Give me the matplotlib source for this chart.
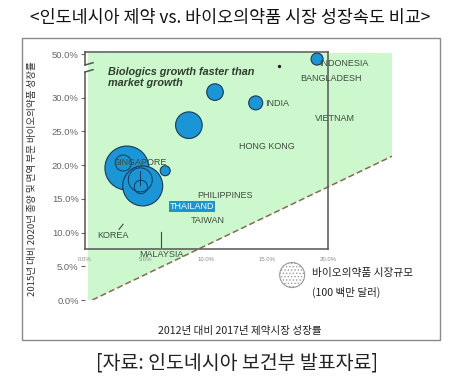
import numpy as np
import matplotlib
matplotlib.use('Agg')
import matplotlib.pyplot as plt
from matplotlib.patches import Rectangle

plt.rcParams['font.family'] = ['Liberation Sans', 'Noto Sans CJK KR']
plt.rcParams['hatch.color'] = '#9a9a9a'
plt.rcParams['hatch.linewidth'] = 0.6
KR = ['Noto Sans CJK KR', 'DejaVu Sans']

# bubbles: x = 2012->2017 pharma market growth (%), y = 2015->2020 biologics growth (%)
bubble_x = [19.1, 10.7, 14.05, 8.55, 3.45, 4.75, 6.6]
bubble_y = [46.3, 30.8, 29.2, 25.9, 19.55, 16.9, 19.15]
bubble_size = [36, 69, 49, 177, 484, 400, 25]   # relative biologics market size

# outline rings drawn inside the big bubbles
ring_x = [3.15, 4.55, 4.6]
ring_y = [20.3, 17.8, 16.75]
ring_size = [64, 144, 45]

dot_x = [15.95]
dot_y = [41.3]

# "market growth" line and y ticks
parity_x = [0.6, 25.27]
parity_y = [0.0, 21.3]
ytick_vals = [0, 5, 10, 15, 20, 25, 30, 50]
xtick_vals = [0, 5, 10, 15, 20]

country_names = ['INDONESIA', 'BANGLADESH', 'VIETNAM', 'INDIA', 'HONG KONG', 'SINGAPORE',
                 'PHILIPPINES', 'THAILAND', 'TAIWAN', 'KOREA', 'MALAYSIA']
name_pos = [(21.3, 35.1), (20.25, 32.75), (20.6, 26.95), (14.8, 29.05), (15.0, 22.8), (4.55, 20.3),
            (11.5, 15.55), (8.8, 13.85), (10.1, 11.85), (2.3, 9.5), (6.25, 6.8)]


def ybrk(v):
    # broken y axis: everything above 33% squeezed so 50% sits just above 30%
    v = np.asarray(v, dtype=float)
    return np.where(v <= 33, v, 33 + (v - 33) * 0.2024)


W, H = 449, 388
fig = plt.figure(figsize=(W / 100, H / 100), dpi=100)
ax = fig.add_axes([85 / W, 1 - 300 / H, 307 / W, 248 / H])
ax.set_xlim(0, 307 / 12.15)
ax.set_ylim(0, 248 / 6.75)
for s in ax.spines.values():
    s.set_visible(False)
ax.set_xticks([])
ax.set_yticks(ybrk(ytick_vals))
ax.set_yticklabels([f'{v:.1f}%' for v in ytick_vals])
ax.tick_params(axis='y', length=3, width=0.8, color='#666666', pad=1.5,
               labelsize=6.8, labelcolor='#666666')

# green "biologics faster" zone and the parity line
ax.fill([0.25, 25.27, 25.27, parity_x[0], 0.25], [36.6, 36.6, parity_y[1], parity_y[0], 0],
        color='#cdf7cd', lw=0, zorder=0)
ax.plot(parity_x, parity_y, ls=(0, (4, 2)), color='#8a6a4a', lw=1.1, zorder=1)

# inner box with axis break
box = dict(color='#555555', lw=1.1, zorder=2, clip_on=False)
top = 248 / 6.75
ax.plot([0, 20], [7.56, 7.56], **box)
ax.plot([20, 20], [7.56, top], **box)
ax.plot([0, 20], [top, top], **box)
ax.plot([0, 0], [7.56, 33.78], **box)
ax.plot([0, 0], [34.81, top], **box)
ax.plot([0, 0.66], [33.78, 34.12], **box)
ax.plot([0, 0.66], [34.81, 35.15], **box)
for v in xtick_vals:
    ax.text(v, 6.0, f'{v:.1f}%', fontsize=4.3, color='#8a8a8a', ha='center', va='center', zorder=2)

# bubbles
k = (2 * 0.72) ** 2
order = np.argsort(bubble_size)[::-1]
ax.scatter(np.array(bubble_x)[order], ybrk(np.array(bubble_y)[order]),
           s=np.array(bubble_size)[order] * k, c='#1a95d5', edgecolors='#1b3858',
           linewidths=0.8, zorder=3)
ax.scatter(ring_x, ring_y, s=np.array(ring_size) * k, facecolors='none',
           edgecolors='#1b3858', linewidths=0.7, zorder=4)
ax.plot([4.53, 4.53], [17.05, 19.1], color='#1b3858', lw=0.7, zorder=4)
ax.scatter(dot_x, ybrk(dot_y), s=2, c='#222222', zorder=4)

# country labels
for name, (x, y) in zip(country_names, name_pos):
    if name == 'THAILAND':
        ax.text(x, y, name, fontsize=6.5, color='white', ha='center', va='center', zorder=6,
                bbox=dict(boxstyle='square,pad=0.12', fc='#1a95d5', ec='none'))
    elif name == 'INDIA':
        ax.text(x, y, name, fontsize=6.5, color='#3c4b3c', ha='left', va='center', zorder=6)
    else:
        ax.text(x, y, name, fontsize=6.5, color='#3c4b3c', ha='center', va='center', zorder=6)
ax.plot([2.8, 3.13], [10.47, 11.21], color='#3c4b3c', lw=0.8, zorder=5)
ax.plot([6.23, 6.23], [7.9, 10.12], color='#3c4b3c', lw=0.8, zorder=5)

ax.text(1.87, 33.0, 'Biologics growth faster than\nmarket growth', fontsize=7.8,
        fontweight='bold', fontstyle='italic', color='#2f3f2f', ha='left', va='center',
        linespacing=1.1, zorder=6)

# size legend
ax.scatter([17.05], [3.7], s=156 * k, facecolors='white', edgecolors='#9a9a9a',
           hatch='.....', linewidths=0.8, zorder=3, clip_on=False)
ax.text(18.66, 3.96, '바이오의약품 시장규모', family=KR, fontsize=7.7, color='#222222',
        ha='left', va='center')
ax.text(18.66, 1.1, '(100 백만 달러)', family=KR, fontsize=7.6, color='#222222',
        ha='left', va='center')

# frame and titles
fig.add_artist(Rectangle((22 / W, 1 - 340 / H), 418 / W, 302 / H, transform=fig.transFigure,
                         fill=False, ec='#8a8a8a', lw=1))
fig.text(230 / W, 1 - 18 / H, '<인도네시아 제약 vs. 바이오의약품 시장 성장속도 비교>',
         family=KR, fontsize=12.5, color='#111111', ha='center', va='center')
fig.text(240 / W, 1 - 331 / H, '2012년 대비 2017년 제약시장 성장률', family=KR,
         fontsize=7.6, color='#222222', ha='center', va='center')
fig.text(33 / W, 1 - 179 / H, '2015년 대비 2020년 종양 및 면역 부문 바이오의약품 성장률',
         family=KR, fontsize=6.9, color='#333333', ha='center', va='center', rotation=90)
fig.text(237 / W, 1 - 363 / H, '[자료: 인도네시아 보건부 발표자료]', family=KR,
         fontsize=14, color='#222222', ha='center', va='center')

fig.savefig('out.png', dpi=100)
